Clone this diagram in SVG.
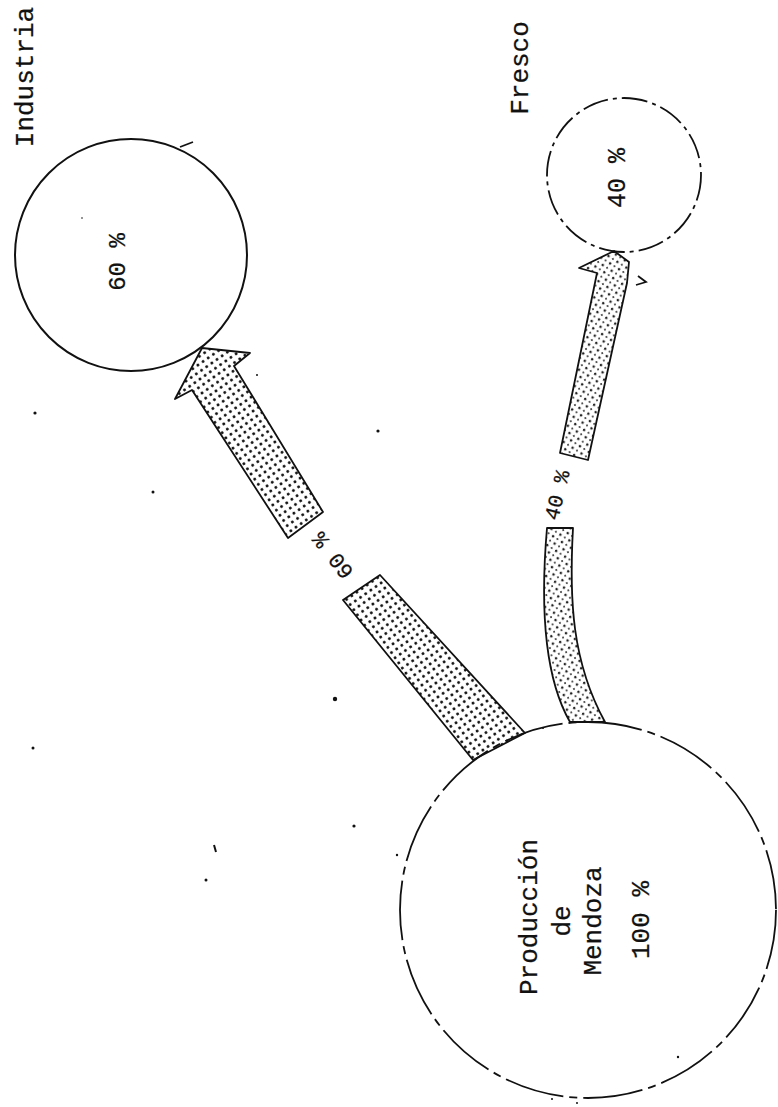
<svg xmlns="http://www.w3.org/2000/svg" width="778" height="1107" viewBox="0 0 778 1107">
<style>
.lbl{font-family:"Liberation Mono","DejaVu Sans Mono",monospace;fill:#111;text-anchor:middle;stroke:#111;stroke-width:0.25}
.node{fill:none;stroke:#111}
.arr{stroke:#111;stroke-width:1.8;stroke-linejoin:round}
</style>
<defs>
<pattern id="dots1" width="6.3" height="6.3" patternUnits="userSpaceOnUse" patternTransform="rotate(-35)">
<rect width="6.3" height="6.3" fill="#fff"/>
<circle cx="3.1" cy="3.1" r="1.45" fill="#111"/>
</pattern>
<pattern id="dots2" width="7.5" height="7.5" patternUnits="userSpaceOnUse" patternTransform="rotate(-12)">
<rect width="7.5" height="7.5" fill="#fff"/>
<circle cx="2" cy="2" r="1.2" fill="#222"/>
<circle cx="5.7" cy="5.7" r="1" fill="#333"/>
</pattern>
</defs>
<rect width="778" height="1107" fill="#fff"/>

<g id="connectors">
<g id="arrow-industria">
<polygon class="arr" fill="url(#dots1)" points="202,348 250,353 234,366 323,512 288,538 192,390 175,399"/>
<polygon class="arr" fill="url(#dots1)" points="343,600 380,575 525,733 473,760"/>
<text class="lbl" font-size="22" transform="translate(332,556) rotate(-128)" dy="8">60 %</text>
</g>
<g id="arrow-fresco">
<polygon class="arr" fill="url(#dots2)" points="579,268 614,251 629,262 627,283 588,460 560,453 597,273"/>
<polyline fill="none" stroke="#111" stroke-width="1.8" points="638,276 646,282 636,285"/>
<path class="arr" fill="url(#dots2)" d="M547,528 L573,528 C569,600 572,662 605,722 L570,722 C547,682 539,620 547,528 Z"/>
<text class="lbl" font-size="21" transform="translate(557,495) rotate(-76)" dy="7">40 %</text>
</g>
</g>

<g id="node-industria">
<circle class="node" cx="131" cy="255" r="116" stroke-width="2"/>
<path d="M180,147 L193,142" stroke="#111" stroke-width="1.8" fill="none"/>
<text class="lbl" font-size="24" transform="translate(125,262) rotate(-90)">60 %</text>
<text class="lbl" font-size="26" transform="translate(33,77) rotate(-90)">Industria</text>
</g>

<g id="node-fresco">
<circle class="node" cx="624" cy="175" r="77" stroke-width="1.8" stroke-dasharray="26 5 4 5"/>
<text class="lbl" font-size="25" transform="translate(625,178) rotate(-90)">40 %</text>
<text class="lbl" font-size="26" transform="translate(528,68) rotate(-90)">Fresco</text>
</g>

<g id="node-produccion">
<circle class="node" cx="588" cy="910" r="188" stroke-width="1.8" stroke-dasharray="60 6 8 6"/>
<text class="lbl" font-size="26" transform="translate(537,917) rotate(-90)">Producción</text>
<text class="lbl" font-size="26" transform="translate(570,921) rotate(-90)">de</text>
<text class="lbl" font-size="26" transform="translate(601,921) rotate(-90)">Mendoza</text>
<text class="lbl" font-size="26" transform="translate(649,920) rotate(-90)">100 %</text>
</g>

<g id="specks" fill="#111">
<circle cx="35" cy="413" r="1.6"/>
<circle cx="82" cy="218" r="0.8"/>
<circle cx="257" cy="375" r="1"/>
<circle cx="378" cy="431" r="1.6"/>
<circle cx="153" cy="492" r="1.5"/>
<circle cx="335" cy="699" r="2.2"/>
<circle cx="354" cy="826" r="1.6"/>
<circle cx="33" cy="748" r="1.5"/>
<circle cx="206" cy="880" r="1.5"/>
<circle cx="397" cy="855" r="1.2"/>
<circle cx="678" cy="1057" r="1.2"/>
<circle cx="543" cy="728" r="1"/>
<circle cx="552" cy="1099" r="1"/>
<circle cx="577" cy="1103" r="1"/>
<path d="M214,845 L216,852" stroke="#111" stroke-width="2" fill="none"/>
</g>
</svg>
